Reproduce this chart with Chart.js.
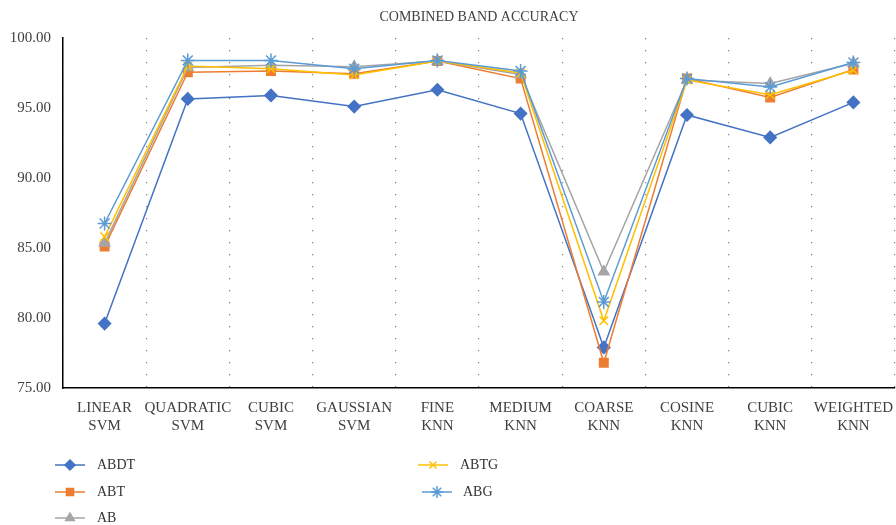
<!DOCTYPE html>
<html lang="en">
<head>
  <meta charset="UTF-8">
  <title>Combined Band Accuracy</title>
  <script src="https://cdn.jsdelivr.net/npm/chart.js"></script>
  <style>
    html, body {
      margin: 0;
      padding: 0;
      background: #fff;
    }
    #wrap {
      width: 896px;
      height: 525px;
    }
  </style>
</head>
<body>
  <div id="wrap">
    <canvas id="acc-chart" width="896" height="525"></canvas>
  </div>

  <script>
    const categories = [
      ['LINEAR', 'SVM'], ['QUADRATIC', 'SVM'], ['CUBIC', 'SVM'], ['GAUSSIAN', 'SVM'],
      ['FINE', 'KNN'], ['MEDIUM', 'KNN'], ['COARSE', 'KNN'], ['COSINE', 'KNN'],
      ['CUBIC', 'KNN'], ['WEIGHTED', 'KNN']
    ];
    const abdt = [79.6, 95.65, 95.9, 95.1, 96.3, 94.6, 77.9, 94.5, 92.9, 95.4];
    const abt  = [85.1, 97.55, 97.65, 97.45, 98.35, 97.1, 76.8, 97.1, 95.75, 97.75];
    const ab   = [85.35, 97.9, 98.05, 97.95, 98.35, 97.4, 83.3, 97.0, 96.75, 98.2];
    const abtg = [85.8, 98.0, 97.8, 97.35, 98.35, 97.5, 79.8, 97.0, 95.95, 97.7];
    const abg  = [86.75, 98.4, 98.4, 97.8, 98.4, 97.65, 81.15, 97.1, 96.5, 98.25];
    const yTicks = [75, 80, 85, 90, 95, 100];

    const serif = "'Liberation Serif', 'DejaVu Serif', serif";

    function series(label, data, color, style, radius, order) {
      return {
        label: label,
        data: data,
        borderColor: color,
        backgroundColor: color,
        pointBackgroundColor: color,
        pointBorderColor: color,
        pointStyle: style,
        pointRadius: radius,
        pointHoverRadius: radius,
        pointBorderWidth: 1.5,
        borderWidth: 1.5,
        tension: 0,
        order: order
      };
    }

    const datasets = [
      series('ABDT', abdt, '#4472C4', 'rectRot', 6, 5),
      series('ABT', abt, '#ED7D31', 'rect', 6, 4),
      series('AB', ab, '#A5A5A5', 'triangle', 6, 3),
      series('ABTG', abtg, '#FFC000', 'crossRot', 6, 2),
      series('ABG', abg, '#5B9BD5', 'star', 7, 1)
    ];

    // legend laid out in two columns like the original
    const legendSpots = [
      { x: 70, y: 465, tx: 97 },
      { x: 70, y: 492, tx: 97 },
      { x: 70, y: 518, tx: 97 },
      { x: 433, y: 465, tx: 460 },
      { x: 437, y: 492, tx: 463 }
    ];

    const extras = {
      id: 'extras',
      afterDraw(chart) {
        const ctx = chart.ctx;
        const area = chart.chartArea;
        ctx.save();
        // title centred over the plot area
        ctx.fillStyle = '#404040';
        ctx.font = '14px ' + serif;
        ctx.textAlign = 'center';
        ctx.textBaseline = 'middle';
        ctx.fillText('COMBINED BAND ACCURACY', (area.left + area.right) / 2, 17);

        chart.data.datasets.forEach((ds, i) => {
          const s = legendSpots[i];
          ctx.strokeStyle = ds.borderColor;
          ctx.lineWidth = 1.5;
          ctx.beginPath();
          ctx.moveTo(s.x - 15, s.y);
          ctx.lineTo(s.x + 15, s.y);
          ctx.stroke();
          ctx.fillStyle = ds.backgroundColor;
          Chart.helpers.drawPoint(ctx, {
            pointStyle: ds.pointStyle,
            radius: ds.pointRadius - 1,
            rotation: 0,
            borderWidth: 1.5
          }, s.x, s.y);
          ctx.fillStyle = '#333';
          ctx.font = '14px ' + serif;
          ctx.textBaseline = 'middle';
          ctx.textAlign = 'left';
          ctx.fillText(ds.label, s.tx, s.y);
        });
        ctx.restore();
      }
    };

    new Chart(document.getElementById('acc-chart').getContext('2d'), {
      type: 'line',
      data: { labels: categories, datasets: datasets },
      plugins: [extras],
      options: {
        responsive: false,
        animation: false,
        layout: { autoPadding: false, padding: { top: 38, right: 1, bottom: 0, left: 0 } },
        plugins: {
          legend: { display: false },
          tooltip: { enabled: false },
          title: { display: false }
        },
        scales: {
          x: {
            offset: true,
            afterFit(scale) {
              scale.height = 137;
              scale.paddingLeft = 0;
              scale.paddingRight = 0;
            },
            grid: {
              offset: true,
              drawTicks: false,
              color: '#7f7f7f',
              lineWidth: 1.2
            },
            border: { display: true, color: '#000', width: 1.5, dash: [1.2, 10.8] },
            ticks: {
              color: '#404040',
              padding: 11,
              maxRotation: 0,
              autoSkip: false,
              font: { family: serif, size: 15 }
            }
          },
          y: {
            min: 75,
            max: 100,
            afterFit(scale) { scale.width = 63; },
            afterBuildTicks(scale) { scale.ticks = yTicks.map(v => ({ value: v })); },
            grid: { display: false, drawTicks: false },
            border: { display: true, color: '#000', width: 1.5 },
            ticks: {
              color: '#404040',
              padding: 12,
              font: { family: serif, size: 15 },
              callback: v => v.toFixed(2)
            }
          }
        }
      }
    });
  </script>
</body>
</html>
